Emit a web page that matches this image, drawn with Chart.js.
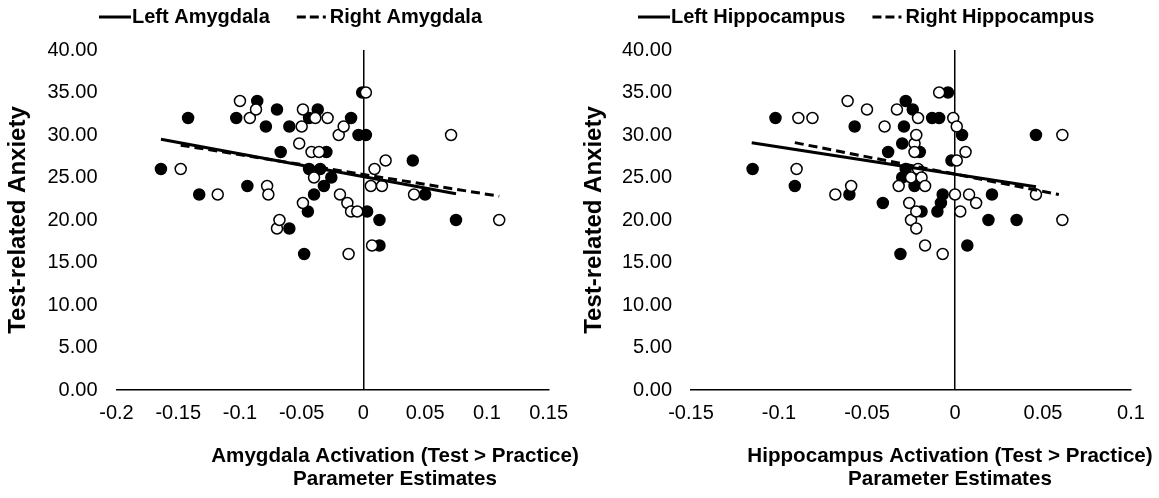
<!DOCTYPE html>
<html>
<head>
<meta charset="utf-8">
<script src="https://cdn.jsdelivr.net/npm/chart.js@4.4.1/dist/chart.umd.min.js"></script>
<style>
  body { margin: 0; background: #fff; }
  #wrap { position: relative; width: 1159px; height: 498px; }
  #amygChart { position: absolute; left: 0; top: 0; }
  #hippoChart { position: absolute; left: 580px; top: 0; }
</style>
</head>
<body>
<div id="wrap">
  <canvas id="amygChart" width="580" height="498"></canvas>
  <canvas id="hippoChart" width="579" height="498"></canvas>
</div>
<script>
// tick labels
const yTicks = [0, 5, 10, 15, 20, 25, 30, 35, 40];
const amygXTicks = [-0.2, -0.15, -0.1, -0.05, 0, 0.05, 0.1, 0.15];
const hippoXTicks = [-0.15, -0.1, -0.05, 0, 0.05, 0.1];

// Left Amygdala (filled circles)
const leftAmygX = [-0.164, -0.142, -0.133, -0.103, -0.094, -0.086, -0.079, -0.070, -0.067, -0.060,
  -0.060, -0.048, -0.045, -0.044, -0.044, -0.040, -0.037, -0.035, -0.032, -0.030,
  -0.026, -0.010, -0.001, -0.004, 0.002, 0.003, 0.013, 0.013, 0.040, 0.050, 0.075];
const leftAmygY = [26, 32, 23, 32, 24, 34, 31, 33, 28, 31,
  19, 16, 21, 32, 26, 23, 33, 26, 24, 28,
  25, 32, 35, 30, 30, 21, 20, 17, 27, 23, 20];

// Right Amygdala (open circles)
const rightAmygX = [-0.148, -0.118, -0.100, -0.092, -0.087, -0.078, -0.077, -0.070, -0.068, -0.052,
  -0.049, -0.050, -0.049, -0.042, -0.040, -0.039, -0.036, -0.029, -0.020, -0.019,
  -0.016, -0.013, -0.012, -0.010, -0.005, 0.002, 0.006, 0.007, 0.009, 0.015,
  0.018, 0.041, 0.071, 0.110];
const rightAmygY = [26, 23, 34, 32, 33, 24, 23, 19, 20, 29,
  33, 31, 22, 28, 25, 32, 28, 32, 30, 23,
  31, 22, 16, 21, 21, 35, 24, 17, 26, 24,
  27, 23, 30, 20];

// Left Hippocampus (filled circles)
const leftHippoX = [-0.115, -0.102, -0.091, -0.060, -0.057, -0.041, -0.038, -0.031, -0.030, -0.030,
  -0.029, -0.028, -0.028, -0.024, -0.023, -0.020, -0.019, -0.013, -0.010, -0.009,
  -0.008, -0.007, -0.004, -0.002, 0.004, 0.007, 0.019, 0.021, 0.035, 0.046];
const leftHippoY = [26, 32, 24, 23, 31, 22, 28, 16, 29, 25,
  31, 26, 34, 33, 24, 28, 21, 32, 21, 32,
  22, 23, 35, 27, 30, 17, 20, 23, 20, 30];

// Right Hippocampus (open circles)
const rightHippoX = [-0.090, -0.089, -0.081, -0.068, -0.061, -0.059, -0.050, -0.040, -0.033, -0.032,
  -0.026, -0.025, -0.025, -0.023, -0.023, -0.022, -0.022, -0.022, -0.021, -0.021,
  -0.019, -0.017, -0.017, -0.009, -0.007, -0.001, 0.000, 0.001, 0.001, 0.003,
  0.006, 0.008, 0.012, 0.046, 0.061, 0.061];
const rightHippoY = [26, 32, 32, 23, 34, 24, 33, 31, 33, 24,
  22, 25, 20, 29, 28, 21, 19, 30, 32, 26,
  25, 24, 17, 35, 16, 32, 23, 31, 27, 21,
  28, 23, 22, 23, 30, 20];

// regression lines (end points)
const leftAmygFitX = [-0.164, 0.075];
const leftAmygFitY = [29.5, 23.1];
const rightAmygFitX = [-0.148, 0.110];
const rightAmygFitY = [28.8, 22.8];
const leftHippoFitX = [-0.1155, 0.046];
const leftHippoFitY = [29.1, 23.9];
const rightHippoFitX = [-0.091, 0.059];
const rightHippoFitY = [29.1, 23.0];

const FONT = "'Liberation Sans', Arial, sans-serif";
Chart.defaults.font.family = FONT;
Chart.defaults.font.size = 20;
Chart.defaults.color = '#000';

function toPoints(xs, ys) {
  return xs.map((x, i) => ({ x: x, y: ys[i] }));
}

// two-line x axis title, second line centred under the first
const xTitlePlugin = {
  id: 'xTitle',
  afterDraw(chart, args, opts) {
    const ctx = chart.ctx;
    ctx.save();
    ctx.font = 'bold 20.6px ' + FONT;
    ctx.fillStyle = '#000';
    ctx.textAlign = 'center';
    ctx.textBaseline = 'middle';
    opts.lines.forEach((t, i) => ctx.fillText(t, opts.x, opts.y[i]));
    ctx.restore();
  }
};

// legend with the line sample right against its label, like Excel
const lineLegend = {
  id: 'lineLegend',
  afterDraw(chart, args, o) {
    const ctx = chart.ctx;
    ctx.save();
    ctx.font = 'bold 20px ' + FONT;
    ctx.textBaseline = 'middle';
    ctx.fillStyle = '#000';
    ctx.strokeStyle = '#000';
    ctx.lineWidth = 3;
    let x = o.x;
    [0, 1].forEach(i => {
      const ds = chart.data.datasets[i];
      ctx.setLineDash(i === 0 ? [] : [9, 4, 9, 4, 3, 100]);
      ctx.beginPath();
      ctx.moveTo(x, o.y);
      ctx.lineTo(x + o.sample, o.y);
      ctx.stroke();
      x += o.sample + 1;
      ctx.fillText(ds.label, x, o.y);
      x += ctx.measureText(ds.label).width + o.gap;
    });
    ctx.restore();
  }
};

function makeChart(id, s) {
  const ctx = document.getElementById(id).getContext('2d');
  return new Chart(ctx, {
    type: 'scatter',
    data: {
      datasets: [
        {
          label: s.leftLabel, type: 'line', data: toPoints(s.leftFitX, s.leftFitY),
          borderColor: '#000', borderWidth: 3, pointRadius: 0, fill: false, order: 0
        },
        {
          label: s.rightLabel, type: 'line', data: toPoints(s.rightFitX, s.rightFitY),
          borderColor: '#000', borderWidth: 3, borderDash: [9, 5], pointRadius: 0, fill: false, order: 0
        },
        {
          label: s.rightLabel + ' points', data: toPoints(s.rightX, s.rightY),
          backgroundColor: '#fff', borderColor: '#000', borderWidth: 1.5, pointRadius: 5.5, order: 1
        },
        {
          label: s.leftLabel + ' points', data: toPoints(s.leftX, s.leftY),
          backgroundColor: '#000', borderColor: '#000', borderWidth: 1.5, pointRadius: 5.5, order: 2
        }
      ]
    },
    options: {
      responsive: false,
      animation: false,
      layout: { padding: { left: 0, right: s.padRight, top: 50, bottom: 0 } },
      plugins: {
        tooltip: { enabled: false },
        legend: { display: false },
        lineLegend: { x: s.legendX, y: 17, sample: 32, gap: 27 },
        xTitle: { lines: s.xTitle, x: s.xTitleX, y: [456, 479] }
      },
      scales: {
        x: {
          type: 'linear',
          min: s.xTicks[0],
          max: s.xTicks[s.xTicks.length - 1],
          afterBuildTicks: scale => { scale.ticks = s.xTicks.map(v => ({ value: v })); },
          afterFit: scale => { scale.height = 108; },
          ticks: {
            padding: 11,
            callback: v => String(Number(v.toFixed(2)))
          },
          grid: {
            drawTicks: false,
            lineWidth: 1.5,
            color: c => (c.tick && c.tick.value === 0 ? '#000' : 'rgba(0,0,0,0)')
          },
          border: { display: true, color: '#000', width: 1.5 }
        },
        y: {
          type: 'linear',
          min: 0,
          max: 40,
          afterBuildTicks: scale => { scale.ticks = yTicks.map(v => ({ value: v })); },
          afterFit: scale => { scale.width = s.yWidth; },
          ticks: {
            padding: 19,
            callback: v => v.toFixed(2)
          },
          grid: { display: false, drawTicks: false },
          border: { display: false },
          title: {
            display: true,
            text: 'Test-related Anxiety',
            font: { size: 24, weight: 'bold' },
            padding: { top: s.yTitlePad, bottom: 0 }
          }
        }
      }
    },
    plugins: [xTitlePlugin, lineLegend]
  });
}

makeChart('amygChart', {
  leftLabel: 'Left Amygdala', rightLabel: 'Right Amygdala',
  leftX: leftAmygX, leftY: leftAmygY, rightX: rightAmygX, rightY: rightAmygY,
  leftFitX: leftAmygFitX, leftFitY: leftAmygFitY, rightFitX: rightAmygFitX, rightFitY: rightAmygFitY,
  xTicks: amygXTicks, yWidth: 116.5, padRight: 31.4, yTitlePad: 4, legendX: 99,
  xTitle: ['Amygdala Activation (Test > Practice)', 'Parameter Estimates'], xTitleX: 395
});

makeChart('hippoChart', {
  leftLabel: 'Left Hippocampus', rightLabel: 'Right Hippocampus',
  leftX: leftHippoX, leftY: leftHippoY, rightX: rightHippoX, rightY: rightHippoY,
  leftFitX: leftHippoFitX, leftFitY: leftHippoFitY, rightFitX: rightHippoFitX, rightFitY: rightHippoFitY,
  xTicks: hippoXTicks, yWidth: 111, padRight: 28, yTitlePad: 0, legendX: 58,
  xTitle: ['Hippocampus Activation (Test > Practice)', 'Parameter Estimates'], xTitleX: 370
});
</script>
</body>
</html>
